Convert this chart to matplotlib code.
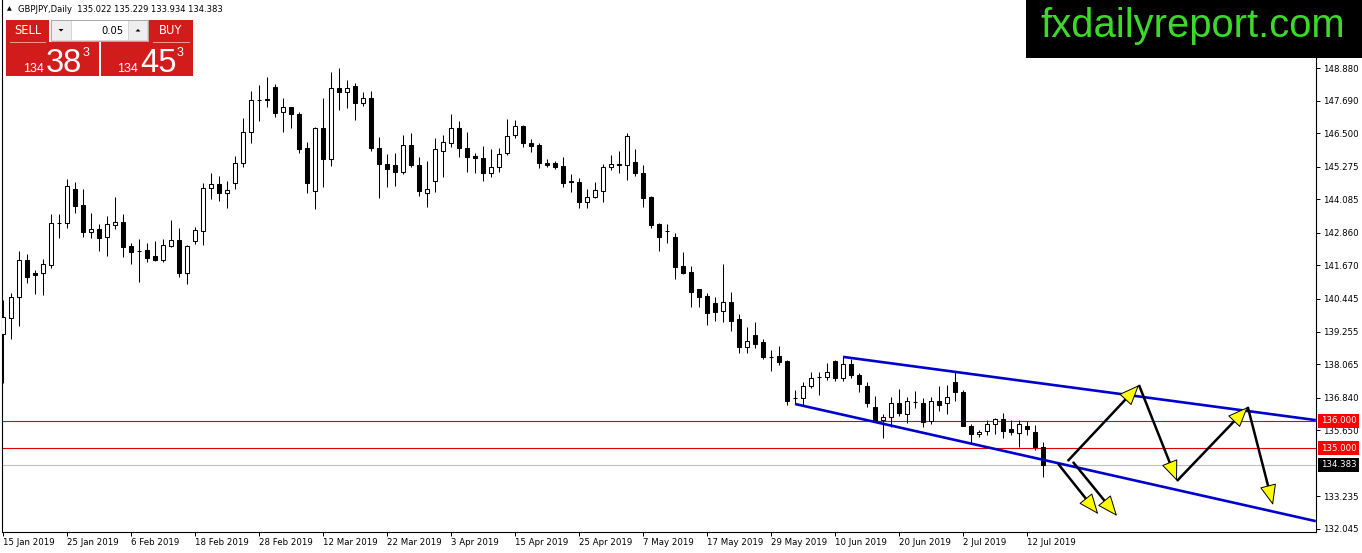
import matplotlib
matplotlib.use("Agg")
import matplotlib.pyplot as plt
import matplotlib.transforms as mtransforms
import numpy as np
from matplotlib.patches import Rectangle, Polygon, FancyArrowPatch

# daily GBPJPY candles, 15 Jan 2019 .. 15 Jul 2019
opens = [139.17, 139.75, 140.52, 141.87, 141.39, 141.39, 141.69, 143.22, 143.22, 144.46,
         143.88, 142.89, 143.00, 142.71, 143.15, 143.26, 142.38, 142.20, 142.23, 142.01,
         141.87, 142.38, 142.60, 141.39, 142.56, 142.93, 144.50, 144.64, 144.32, 144.68,
         145.41, 146.54, 147.71, 147.75, 148.19, 147.27, 147.46, 147.20, 145.96, 144.39,
         146.69, 145.56, 148.15, 148.00, 148.22, 147.60, 147.79, 145.96, 145.37, 145.34,
         145.08, 146.07, 145.34, 144.32, 144.75, 145.85, 146.14, 146.69, 145.96, 145.67,
         145.59, 145.05, 145.27, 145.78, 146.43, 146.76, 146.14, 146.07, 145.41, 145.41,
         145.30, 144.75, 144.72, 143.99, 144.17, 144.39, 145.27, 145.37, 145.34, 145.45,
         145.05, 144.17, 143.18, 142.93, 142.71, 141.65, 141.43, 140.81, 140.55, 140.30,
         140.01, 140.34, 139.71, 138.69, 139.13, 138.87, 138.33, 138.36, 138.18, 136.83,
         136.83, 137.27, 137.60, 137.60, 138.18, 137.56, 138.07, 137.67, 137.27, 136.50,
         136.03, 136.14, 136.65, 136.24, 136.68, 136.65, 135.99, 136.72, 136.65, 137.41,
         137.05, 135.81, 135.51, 135.62, 135.88, 136.06, 135.70, 135.55, 135.81, 135.59,
         135.022]
highs = [140.41, 140.66, 142.20, 142.09, 141.50, 141.90, 143.55, 143.55, 144.83, 144.72,
         144.46, 143.58, 143.18, 143.48, 144.17, 143.55, 142.49, 142.64, 142.49, 142.56,
         142.64, 143.33, 143.04, 142.40, 143.07, 144.68, 145.05, 144.94, 144.75, 145.67,
         147.05, 148.04, 148.26, 148.55, 148.30, 147.79, 147.47, 147.27, 146.18, 146.72,
         147.79, 148.73, 148.88, 148.44, 148.33, 148.00, 148.04, 146.36, 145.74, 145.78,
         146.43, 146.51, 145.63, 145.48, 146.32, 146.43, 147.20, 146.94, 146.54, 145.78,
         146.03, 145.92, 145.96, 147.02, 146.98, 146.80, 146.29, 146.14, 145.56, 145.48,
         145.63, 145.01, 144.86, 144.46, 144.72, 145.37, 145.70, 145.85, 146.51, 145.92,
         145.34, 144.21, 143.22, 143.18, 142.85, 142.16, 141.65, 140.82, 140.66, 140.52,
         141.72, 140.70, 139.90, 139.42, 139.60, 138.98, 138.58, 138.73, 138.22, 137.12,
         137.41, 137.78, 137.78, 138.11, 138.22, 138.33, 138.25, 137.74, 137.41, 136.90,
         136.25, 136.86, 137.16, 136.86, 137.08, 136.83, 136.86, 137.27, 137.30, 137.78,
         137.12, 135.88, 135.66, 136.03, 136.10, 136.28, 136.03, 136.03, 135.99, 135.84,
         135.229]
lows = [137.38, 138.98, 139.46, 141.03, 140.63, 140.59, 141.58, 142.67, 143.04, 143.58,
        142.71, 142.67, 142.20, 142.01, 143.00, 141.97, 141.72, 141.07, 141.80, 141.83,
        141.80, 142.34, 141.25, 140.99, 142.45, 142.42, 144.10, 144.02, 143.77, 144.46,
        145.27, 146.14, 146.94, 147.46, 147.09, 146.54, 146.69, 145.78, 144.32, 143.73,
        144.53, 145.30, 147.35, 147.42, 146.98, 147.49, 145.85, 144.13, 144.53, 144.57,
        145.01, 145.27, 144.21, 143.80, 144.35, 144.90, 146.00, 145.63, 145.08, 145.05,
        144.75, 144.90, 145.08, 145.70, 146.32, 146.00, 145.81, 145.23, 145.27, 145.19,
        144.53, 144.35, 143.77, 143.77, 144.13, 143.99, 145.16, 145.05, 144.79, 144.94,
        143.80, 143.04, 142.20, 142.49, 141.17, 141.37, 140.15, 140.15, 139.49, 139.64,
        139.60, 139.28, 138.47, 138.47, 138.65, 138.25, 137.81, 138.03, 136.57, 136.61,
        136.57, 137.20, 136.94, 137.49, 137.45, 137.45, 137.56, 137.05, 136.50, 135.95,
        135.37, 135.77, 136.17, 135.91, 136.46, 135.77, 135.88, 136.35, 136.25, 136.72,
        135.79, 135.19, 135.40, 135.48, 135.51, 135.37, 135.48, 135.04, 135.48, 134.93,
        133.934]
closes = [139.79, 140.52, 141.87, 141.25, 141.32, 141.72, 143.22, 143.22, 144.57, 143.84,
          142.89, 143.00, 142.67, 143.18, 143.26, 142.34, 142.16, 142.20, 141.94, 141.87,
          142.42, 142.60, 141.39, 142.38, 142.96, 144.50, 144.64, 144.32, 144.43, 145.41,
          146.54, 147.71, 147.71, 147.71, 147.24, 147.46, 147.20, 145.92, 144.68, 146.69,
          145.56, 148.15, 148.00, 148.15, 147.60, 147.79, 145.96, 145.37, 145.19, 145.08,
          146.07, 145.34, 144.39, 144.46, 145.92, 146.18, 146.69, 145.96, 145.63, 145.59,
          145.05, 145.27, 145.74, 146.40, 146.76, 146.14, 146.03, 145.41, 145.34, 145.27,
          144.68, 144.72, 143.99, 144.17, 144.43, 145.27, 145.37, 145.34, 146.40, 145.05,
          144.13, 143.15, 142.71, 142.93, 141.61, 141.39, 140.70, 140.52, 139.93, 139.97,
          140.34, 139.64, 138.69, 138.91, 138.80, 138.33, 138.33, 138.14, 136.72, 136.83,
          137.27, 137.56, 137.60, 137.78, 137.56, 138.07, 137.67, 137.34, 136.65, 135.99,
          136.14, 136.65, 136.28, 136.72, 136.68, 135.95, 136.72, 136.57, 136.86, 137.05,
          135.81, 135.51, 135.59, 135.88, 136.06, 135.62, 135.59, 135.88, 135.70, 135.04,
          134.383]

date_labels = ["15 Jan 2019", "25 Jan 2019", "6 Feb 2019", "18 Feb 2019", "28 Feb 2019",
               "12 Mar 2019", "22 Mar 2019", "3 Apr 2019", "15 Apr 2019", "25 Apr 2019",
               "7 May 2019", "17 May 2019", "29 May 2019", "10 Jun 2019", "20 Jun 2019",
               "2 Jul 2019", "12 Jul 2019"]
date_step = 8

price_ticks = [148.880, 147.690, 146.500, 145.275, 144.085, 142.860, 141.670, 140.445,
               139.255, 138.065, 136.840, 135.650, 133.235, 132.045]

levels = [136.000, 135.000]
bid = 134.383

# channel lines (bar index, price)
upper_channel = [(105, 138.33), (164.1, 136.02)]
lower_channel = [(99, 136.61), (164.1, 132.33)]

# projected path: (start, tip) in (bar index, price)
path_arrows = [((133.1, 134.53), (142.0, 137.30)),
               ((142.0, 137.30), (146.75, 133.80)),
               ((146.75, 133.80), (155.6, 136.50)),
               ((155.6, 136.50), (158.75, 132.92)),
               ((131.9, 134.42), (136.9, 132.59)),
               ((133.75, 134.49), (139.25, 132.52))]

W, H = 1362, 553
fig = plt.figure(figsize=(W / 100, H / 100), dpi=100)
fig.patch.set_facecolor("white")
ax = fig.add_axes([2 / W, 21 / H, (1316 - 2) / W, 532 / H])

o = np.array(opens)
h = np.array(highs)
l = np.array(lows)
c = np.array(closes)
idx = np.arange(len(o))
up = c >= o

ax.vlines(idx, l, h, color="black", lw=0.75, zorder=3)
body = np.maximum(np.abs(c - o), 0.004)
ax.bar(idx, body, bottom=np.minimum(o, c), width=0.56,
       color=np.where(up, "white", "black"), edgecolor="black", linewidth=0.75, zorder=4)

for lv in levels:
    ax.axhline(lv, color="#e00000", lw=0.8, zorder=2)
ax.axhline(bid, color="#c0c0c0", lw=0.8, zorder=1)

for line in (upper_channel, lower_channel):
    xs, ys = zip(*line)
    ax.plot(xs, ys, color="#0000cc", lw=1.9, zorder=5, solid_capstyle="butt")

ax.set_xlim(-1 / 8, (1316 - 3) / 8)
ax.set_ylim(131.934, 151.364)

# axes
for s in ("left", "bottom", "right"):
    ax.spines[s].set_linewidth(0.8)
    ax.spines[s].set_color("black")
ax.spines["top"].set_visible(False)

ax.yaxis.tick_right()
ax.set_yticks(price_ticks)
ax.set_yticklabels([f"{p:.3f}" for p in price_ticks])
ax.set_xticks(np.arange(len(date_labels)) * date_step)
ax.set_xticklabels(date_labels, ha="left")
ax.tick_params(axis="both", direction="out", length=3, width=0.7, labelsize=6.2,
               colors="black", pad=2)
ax.tick_params(axis="x", pad=1.5)

# price boxes on the scale
blend = mtransforms.blended_transform_factory(ax.transAxes, ax.transData)
for lv in levels:
    ax.text(1.0035, lv, f"{lv:.3f}", transform=blend, ha="left", va="center",
            fontsize=6.2, color="white", clip_on=False,
            bbox=dict(boxstyle="square,pad=0.28", fc="#ff0000", ec="none"))
ax.text(1.0035, bid, f"{bid:.3f}", transform=blend, ha="left", va="center",
        fontsize=6.2, color="white", clip_on=False,
        bbox=dict(boxstyle="square,pad=0.28", fc="black", ec="none"))

# projected path arrows
head_len = 1.1
head_px = head_len * 12 * 100 / 72
for start, tip in path_arrows:
    p0 = ax.transData.transform(start)
    p1 = ax.transData.transform(tip)
    d = p1 - p0
    cut = p1 - d / np.hypot(*d) * head_px * 0.6
    back = ax.transData.inverted().transform(cut)
    ax.plot([start[0], back[0]], [start[1], back[1]], color="black", lw=1.8,
            solid_capstyle="butt", zorder=6)
    ax.add_patch(FancyArrowPatch(start, tip,
                                 arrowstyle=f"-|>,head_length={head_len},head_width=0.45",
                                 mutation_scale=12, fc="#ffff00", ec="black", lw=0.7,
                                 shrinkA=0, shrinkB=0, zorder=7))

# overlay in pixel units: trade panel, header, banner
ov = fig.add_axes([0, 0, 1, 1])
ov.set_xlim(0, W)
ov.set_ylim(H, 0)
ov.axis("off")

ov.text(9, 9, "▲", fontsize=4.5, ha="center", va="center")
ov.text(18, 9, "GBPJPY,Daily  135.022 135.229 133.934 134.383", fontsize=6.0,
        ha="left", va="center")

RED = "#d21b1b"
ov.add_patch(Rectangle((6, 20), 43, 22, fc=RED, ec="none"))
ov.add_patch(Rectangle((149, 20), 44, 22, fc=RED, ec="none"))
ov.add_patch(Rectangle((6, 42), 93, 34, fc=RED, ec="none"))
ov.add_patch(Rectangle((101, 42), 92, 34, fc=RED, ec="none"))
ov.plot([10, 45], [42, 42], color="#f39a9a", lw=0.7)
ov.plot([153, 189], [42, 42], color="#f39a9a", lw=0.7)
ov.text(27.5, 31, "SELL", color="white", fontsize=8.3, ha="center", va="center")
ov.text(171, 31, "BUY", color="white", fontsize=8.3, ha="center", va="center")

ov.add_patch(Rectangle((51, 20), 97, 21, fc="#d6d6d6", ec="#a8a8a8", lw=0.7))
ov.add_patch(Rectangle((52, 21), 19, 19, fc="#eeeeee", ec="none"))
ov.add_patch(Rectangle((72, 21), 56, 19, fc="white", ec="none"))
ov.add_patch(Rectangle((129, 21), 18, 19, fc="#eeeeee", ec="none"))
ov.add_patch(Polygon([(58.5, 29), (63.5, 29), (61, 31.5)], closed=True, fc="black", ec="none"))
ov.add_patch(Polygon([(135.5, 31.5), (140.5, 31.5), (138, 29)], closed=True, fc="black", ec="none"))
ov.text(124, 30.5, "0.05", fontsize=7.2, ha="right", va="center")

font = "Liberation Sans"
for x0, big in ((23, "38"), (117, "45")):
    ov.text(x0, 72, "134", color="white", fontsize=9, family=font, ha="left", va="baseline")
    ov.text(x0 + 23, 72, big, color="white", fontsize=23.5, family=font, ha="left", va="baseline")
    ov.text(x0 + 60, 47, "3", color="white", fontsize=9, family=font, ha="left", va="top")

ov.add_patch(Rectangle((1026, 0), W - 1026, 58, fc="black", ec="none"))
ov.text(1193, 37, "fxdailyreport.com", color="#3cd82a", fontsize=28.8, family=font,
        ha="center", va="baseline")

fig.savefig("out.png", dpi=100, facecolor="white")
